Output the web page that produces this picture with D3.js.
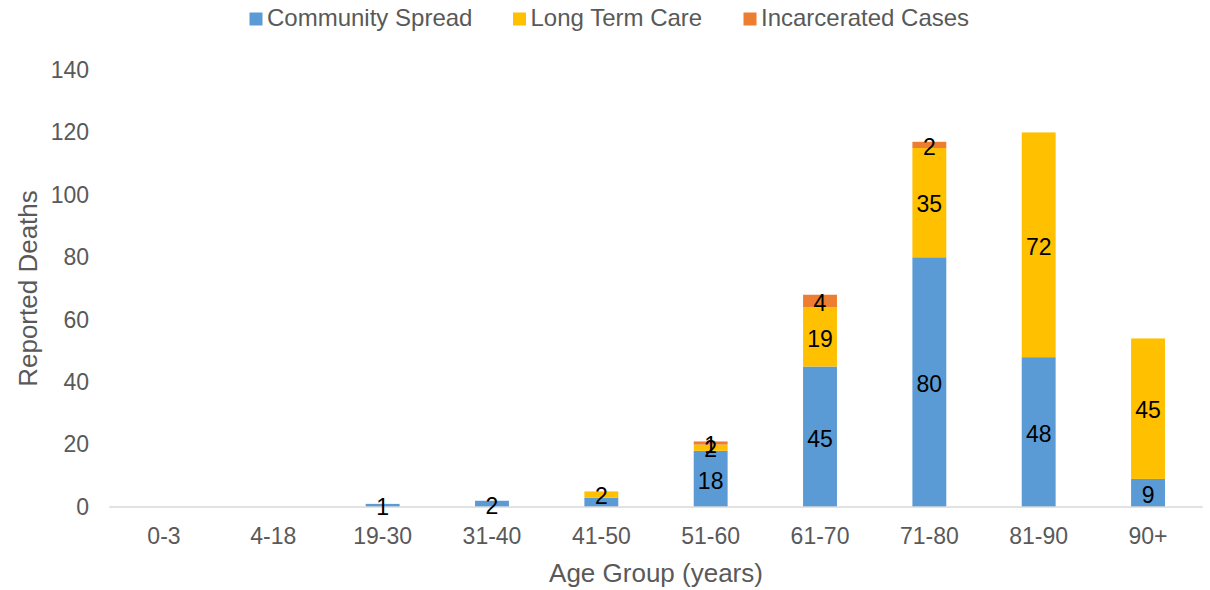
<!DOCTYPE html>
<html>
<head>
<meta charset="utf-8">
<script src="https://cdn.jsdelivr.net/npm/d3@7"></script>
<style>
  body { margin: 0; background: #fff; }
  text { font-family: "Liberation Sans", Arial, sans-serif; }
</style>
</head>
<body>
<div id="chart"></div>
<script>
const ageGroups = ["0-3", "4-18", "19-30", "31-40", "41-50", "51-60", "61-70", "71-80", "81-90", "90+"];
const community = [0, 0, 1, 2, 3, 18, 45, 80, 48, 9];
const longTermCare = [0, 0, 0, 0, 2, 2, 19, 35, 72, 45];
const incarcerated = [0, 0, 0, 0, 0, 1, 4, 2, 0, 0];
// labels Excel left hidden
const hiddenLabels = [["community", "41-50"]];
const yTicks = [0, 20, 40, 60, 80, 100, 120, 140];

const seriesKeys = ["community", "longTermCare", "incarcerated"];
const seriesNames = ["Community Spread", "Long Term Care", "Incarcerated Cases"];
const colors = ["#5B9BD5", "#FFC000", "#ED7D31"];

const width = 1210, height = 590;
const plot = { left: 109.3, right: 1202.7, top: 70, bottom: 507 };

const rows = ageGroups.map((g, i) => ({
  group: g,
  community: community[i],
  longTermCare: longTermCare[i],
  incarcerated: incarcerated[i]
}));

const svg = d3.select("#chart").append("svg")
  .attr("width", width)
  .attr("height", height);

const x = d3.scaleBand()
  .domain(ageGroups)
  .range([plot.left, plot.right])
  .paddingInner(0.69)
  .paddingOuter(0.345);

const y = d3.scaleLinear()
  .domain([0, 140])
  .range([plot.bottom, plot.top]);

const stacked = d3.stack().keys(seriesKeys)(rows);

const layers = svg.append("g")
  .selectAll("g")
  .data(stacked)
  .join("g")
  .attr("fill", (d, i) => colors[i]);

layers.selectAll("rect")
  .data(d => d.filter(p => p[1] - p[0] > 0))
  .join("rect")
  .attr("x", d => x(d.data.group))
  .attr("width", x.bandwidth())
  .attr("y", d => y(d[1]))
  .attr("height", d => y(d[0]) - y(d[1]));

// baseline
svg.append("line")
  .attr("x1", plot.left)
  .attr("x2", plot.right)
  .attr("y1", y(0))
  .attr("y2", y(0))
  .attr("stroke", "#d9d9d9")
  .attr("stroke-width", 1.3);

// value labels
stacked.forEach(layer => {
  svg.append("g")
    .selectAll("text")
    .data(layer.filter(p => p[1] - p[0] > 0 &&
      !hiddenLabels.some(h => h[0] === layer.key && h[1] === p.data.group)))
    .join("text")
    .attr("x", d => x(d.data.group) + x.bandwidth() / 2)
    .attr("y", d => y((d[0] + d[1]) / 2) + 1.5)
    .attr("dy", "0.36em")
    .attr("text-anchor", "middle")
    .attr("font-size", 23)
    .attr("fill", "#000")
    .text(d => d[1] - d[0]);
});

// y axis
const yAxis = d3.axisLeft(y).tickValues(yTicks).tickSize(0).tickPadding(0);
svg.append("g")
  .attr("transform", `translate(89,0)`)
  .call(yAxis)
  .call(g => g.select(".domain").remove())
  .call(g => g.selectAll("text")
    .attr("font-size", 23)
    .attr("fill", "#595959")
    .attr("font-family", "Liberation Sans, Arial, sans-serif"));

// x axis
const xAxis = d3.axisBottom(x).tickSize(0).tickPadding(0);
svg.append("g")
  .attr("transform", `translate(0,${y(0) + 21})`)
  .call(xAxis)
  .call(g => g.select(".domain").remove())
  .call(g => g.selectAll("text")
    .attr("font-size", 23)
    .attr("fill", "#595959")
    .attr("font-family", "Liberation Sans, Arial, sans-serif"));

// axis titles
svg.append("text")
  .attr("x", 656)
  .attr("y", 582)
  .attr("text-anchor", "middle")
  .attr("font-size", 26)
  .attr("fill", "#595959")
  .text("Age Group (years)");

svg.append("text")
  .attr("transform", `translate(37,${(plot.top + plot.bottom) / 2}) rotate(-90)`)
  .attr("text-anchor", "middle")
  .attr("font-size", 26)
  .attr("fill", "#595959")
  .text("Reported Deaths");

// legend
const legendX = [249.5, 513, 743.5];
const legend = svg.append("g")
  .selectAll("g")
  .data(seriesNames)
  .join("g")
  .attr("transform", (d, i) => `translate(${legendX[i]},19)`);

legend.append("rect")
  .attr("x", 0)
  .attr("y", -6.5)
  .attr("width", 13)
  .attr("height", 13)
  .attr("fill", (d, i) => colors[i]);

legend.append("text")
  .attr("x", 17.5)
  .attr("y", 7)
  .attr("font-size", 24)
  .attr("fill", "#595959")
  .text(d => d);
</script>
</body>
</html>
